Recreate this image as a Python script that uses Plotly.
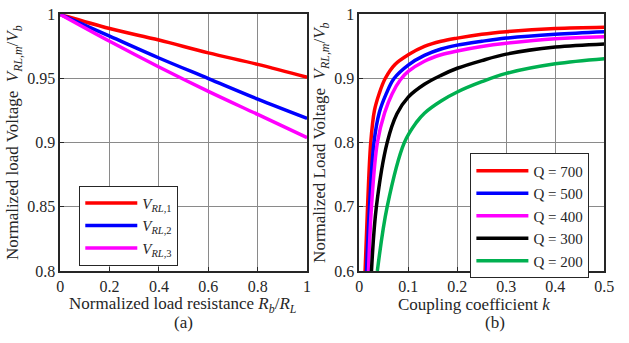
import plotly.graph_objects as go

# ---- Panel (a) data ----
rb_rl = [0, 0.2, 0.4, 0.6, 0.8, 1.0]
v_rl1 = [1.0, 0.989, 0.980, 0.970, 0.961, 0.951]
v_rl2 = [1.0, 0.983, 0.966, 0.950, 0.934, 0.919]
v_rl3 = [1.0, 0.979, 0.959, 0.940, 0.922, 0.904]
a_names = ["<i>V</i><sub><i>RL</i>,1</sub>", "<i>V</i><sub><i>RL</i>,2</sub>", "<i>V</i><sub><i>RL</i>,3</sub>"]
a_colors = ["#ff0000", "#0000ff", "#ff00ff"]

# ---- Panel (b) data ----
k_700 = [0.012, 0.017, 0.0235, 0.031, 0.041, 0.053, 0.073, 0.1, 0.133, 0.167, 0.2, 0.25, 0.3, 0.4, 0.5]
v_700 = [0.6, 0.7, 0.8, 0.85, 0.877, 0.9, 0.922, 0.937, 0.950, 0.958, 0.963, 0.969, 0.973, 0.978, 0.980]
k_500 = [0.015, 0.021, 0.030, 0.041, 0.055, 0.071, 0.1, 0.133, 0.167, 0.2, 0.25, 0.3, 0.4, 0.5]
v_500 = [0.6, 0.7, 0.8, 0.847, 0.876, 0.9, 0.921, 0.936, 0.946, 0.952, 0.958, 0.963, 0.969, 0.973]
k_400 = [0.019, 0.025, 0.037, 0.052, 0.067, 0.084, 0.1, 0.133, 0.167, 0.2, 0.25, 0.3, 0.4, 0.5]
v_400 = [0.6, 0.7, 0.8, 0.847, 0.876, 0.898, 0.911, 0.927, 0.937, 0.943, 0.950, 0.955, 0.962, 0.965]
k_300 = [0.025, 0.035, 0.057, 0.077, 0.1, 0.133, 0.167, 0.2, 0.25, 0.3, 0.4, 0.5]
v_300 = [0.6, 0.7, 0.8, 0.845, 0.871, 0.891, 0.905, 0.916, 0.928, 0.938, 0.949, 0.954]
k_200 = [0.037, 0.057, 0.092, 0.117, 0.133, 0.167, 0.2, 0.25, 0.3, 0.4, 0.5]
v_200 = [0.6, 0.7, 0.8, 0.832, 0.846, 0.865, 0.879, 0.895, 0.908, 0.923, 0.931]
b_names = ["Q = 700", "Q = 500", "Q = 400", "Q = 300", "Q = 200"]
b_colors = ["#ff0000", "#0000ff", "#ff00ff", "#000000", "#00b050"]

a_x_ticks = [0, 0.2, 0.4, 0.6, 0.8, 1]
a_x_labels = ["0", "0.2", "0.4", "0.6", "0.8", "1"]
a_y_ticks = [0.8, 0.85, 0.9, 0.95, 1]
a_y_labels = ["0.8", "0.85", "0.9", "0.95", "1"]
b_x_ticks = [0, 0.1, 0.2, 0.3, 0.4, 0.5]
b_x_labels = ["0", "0.1", "0.2", "0.3", "0.4", "0.5"]
b_y_ticks = [0.6, 0.7, 0.8, 0.9, 1]
b_y_labels = ["0.6", "0.7", "0.8", "0.9", "1"]

FONT = "Liberation Serif, Times New Roman, serif"
TXT = "#262626"
W, H = 629, 343

fig = go.Figure()
for ys, nm, c in zip([v_rl1, v_rl2, v_rl3], a_names, a_colors):
    fig.add_trace(go.Scatter(x=rb_rl, y=ys, name=nm, mode="lines",
                             line=dict(color=c, width=3.5, shape="spline"),
                             xaxis="x", yaxis="y", legend="legend"))
for ks, vs, nm, c in zip([k_700, k_500, k_400, k_300, k_200],
                         [v_700, v_500, v_400, v_300, v_200], b_names, b_colors):
    fig.add_trace(go.Scatter(x=ks, y=vs, name=nm, mode="lines",
                             line=dict(color=c, width=3.5, shape="spline", smoothing=1.0),
                             xaxis="x2", yaxis="y2", legend="legend2"))

ax_common = dict(showline=True, linecolor=TXT, linewidth=1.5, mirror=True,
                 showgrid=True, gridcolor="#8a8a8a", gridwidth=1.2, zeroline=False,
                 ticks="inside", ticklen=4, tickcolor=TXT, ticklabeloverflow="allow",
                 tickfont=dict(family=FONT, size=16, color=TXT))

def dom_x(x0, x1):
    return [x0 / W, x1 / W]

ydom = [(H - 276.7) / H, (H - 6.7) / H]
title_font = dict(family=FONT, size=17, color=TXT)

def ann(text, xpx, ypx):
    return dict(text=text, x=xpx / W, y=(H - ypx) / H, xref="paper", yref="paper",
                xanchor="center", yanchor="middle", showarrow=False, font=title_font)

fig.update_layout(
    width=W, height=H, margin=dict(l=0, r=0, t=0, b=0),
    paper_bgcolor="white", plot_bgcolor="white",
    font=dict(family=FONT, size=16, color=TXT),
    xaxis=dict(domain=dom_x(57.5, 310), range=[0, 1], tickvals=a_x_ticks, ticktext=a_x_labels,
               anchor="y", **ax_common),
    yaxis=dict(domain=ydom, range=[0.8, 1], tickvals=a_y_ticks, ticktext=a_y_labels, anchor="x",
               title=dict(text="Normalized load Voltage  <i>V</i><sub><i>RL,m</i></sub>/<i>V</i><sub><i>b</i></sub>",
                          font=title_font, standoff=4),
               **ax_common),
    xaxis2=dict(domain=dom_x(363.3, 614), range=[0, 0.5], tickvals=b_x_ticks, ticktext=b_x_labels,
                anchor="y2", **ax_common),
    yaxis2=dict(domain=ydom, range=[0.6, 1], tickvals=b_y_ticks, ticktext=b_y_labels, anchor="x2",
                title=dict(text="Normalized Load Voltage  <i>V</i><sub><i>RL,m</i></sub>/<i>V</i><sub><i>b</i></sub>",
                           font=title_font, standoff=4),
                **ax_common),
    legend=dict(x=77 / W, y=(H - 187) / H, xanchor="left", yanchor="top",
                bgcolor="white", bordercolor=TXT, borderwidth=1,
                font=dict(family=FONT, size=15, color=TXT),
                itemwidth=52, tracegroupgap=0),
    legend2=dict(x=477 / W, y=(H - 153) / H, xanchor="left", yanchor="top",
                 bgcolor="white", bordercolor=TXT, borderwidth=1,
                 font=dict(family=FONT, size=15, color=TXT),
                 itemwidth=52, tracegroupgap=0),
    showlegend=True,
    annotations=[
        ann("Normalized load resistance <i>R</i><sub><i>b</i></sub>/<i>R</i><sub><i>L</i></sub>", 183, 313),
        ann("Coupling coefficient <i>k</i>", 481, 312),
        ann("(a)", 184, 331),
        ann("(b)", 502, 331),
    ],
)

fig.write_html("out.html")
